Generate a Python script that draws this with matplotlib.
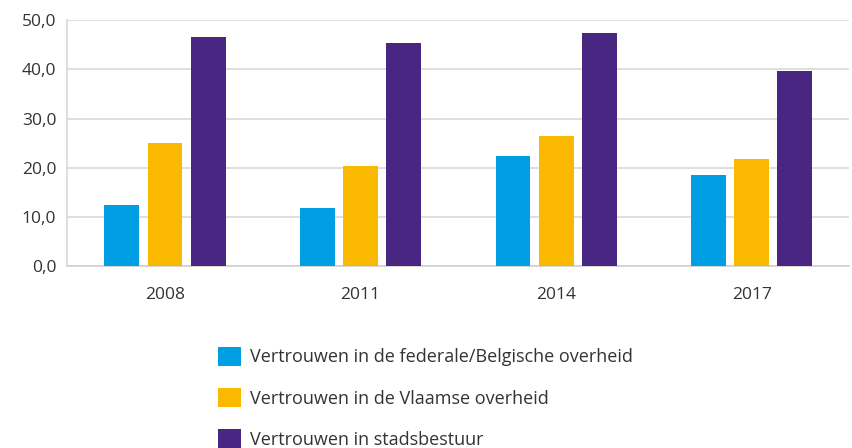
import matplotlib

matplotlib.use("Agg")
import matplotlib.pyplot as plt
import numpy as np
from matplotlib.patches import Patch

# Trust in government levels per survey year (percentages)
YEARS = ["2008", "2011", "2014", "2017"]
FEDERAAL = [12.4, 11.8, 22.4, 18.6]
VLAAMS = [25.1, 20.3, 26.5, 21.7]
STAD = [46.5, 45.4, 47.4, 39.6]

LABELS = [
    "Vertrouwen in de federale/Belgische overheid",
    "Vertrouwen in de Vlaamse overheid",
    "Vertrouwen in stadsbestuur",
]
COLORS = ["#009FE3", "#FBB800", "#4A2683"]

plt.rcParams["font.family"] = ["Open Sans", "DejaVu Sans"]

fig = plt.figure(figsize=(8.52, 4.48), dpi=100)
ax = fig.add_axes([0.079, 0.406, 0.918, 0.549])

x = np.arange(len(YEARS))
step = 0.221
width = 0.178
for i, (vals, col) in enumerate(zip([FEDERAAL, VLAAMS, STAD], COLORS)):
    ax.bar(x + (i - 1) * step, vals, width=width, color=col, zorder=3)

ax.set_xlim(-0.5, 3.5)
ax.set_ylim(0, 50)
ax.set_yticks(np.arange(0, 51, 10))
ax.set_yticklabels([f"{v:.1f}".replace(".", ",") for v in np.arange(0, 51, 10)])
ax.set_xticks(x)
ax.set_xticklabels(YEARS)
ax.tick_params(length=0, labelsize=12.5, colors="#333333", pad=8)
ax.tick_params(axis="x", pad=15)

ax.yaxis.grid(True, color="#D9D9D9", linewidth=1.2, zorder=0)
for side in ("top", "right"):
    ax.spines[side].set_visible(False)
ax.spines["left"].set_color("#D9D9D9")
ax.spines["left"].set_linewidth(1.2)
ax.spines["bottom"].set_color("#D0D0D0")
ax.spines["bottom"].set_linewidth(1.2)

handles = [Patch(facecolor=c, edgecolor="none") for c in COLORS]
fig.legend(
    handles,
    LABELS,
    loc="upper left",
    bbox_to_anchor=(0.237, 0.262),
    frameon=False,
    fontsize=13,
    handlelength=1.25,
    handleheight=1.25,
    handletextpad=0.5,
    labelspacing=1.2,
    labelcolor="#333333",
)

fig.savefig("out.png", dpi=100)
